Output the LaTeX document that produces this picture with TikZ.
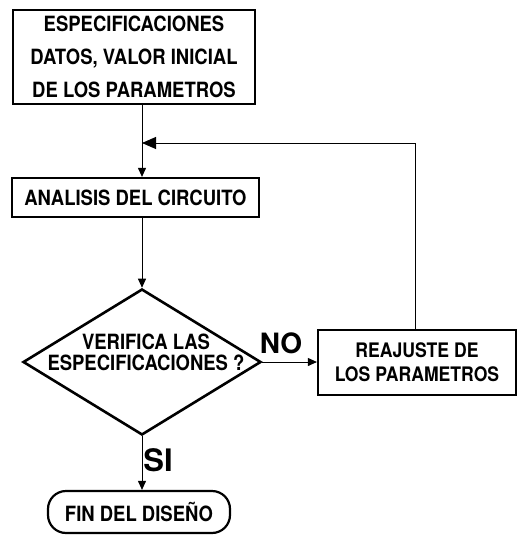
\documentclass[tikz,border=0pt]{standalone}
\usepackage{fontspec}
\setmainfont{TeX Gyre Heros}[FakeStretch=0.88]
\newfontfamily\lblfont{TeX Gyre Heros}
\usetikzlibrary{shapes.geometric,arrows.meta}
\begin{document}
\begin{tikzpicture}[x=1pt,y=-1pt,
  box/.style={draw,line width=2.2pt,align=center,font=\bfseries\fontsize{21}{33}\selectfont,inner sep=0pt},
  conn/.style={line width=0.9pt,-{Triangle[length=9pt,width=8pt]}},
  bigtip/.style={line width=0.9pt,-{Triangle[length=14pt,width=12pt]}},
  lbl/.style={font=\lblfont\bfseries\fontsize{28}{28}\selectfont,inner sep=0pt}]
\useasboundingbox (0,0) rectangle (518,536);
\node[box,minimum width=242pt,minimum height=94pt] (spec) at (134,57)
  {ESPECIFICACIONES\\DATOS, VALOR INICIAL\\DE LOS PARAMETROS};
\node[box,minimum width=247pt,minimum height=39pt] (ana) at (135.5,197.5) {ANALISIS DEL CIRCUITO};
\node[draw,diamond,line width=2.6pt,minimum width=238pt,minimum height=146pt,inner sep=0pt] (dec) at (142,362) {};
\node[align=center,font=\bfseries\fontsize{21}{21}\selectfont,inner sep=0pt] (dectxt) at (146,352) {VERIFICA LAS\\ESPECIFICACIONES ?};
\node[box,font=\bfseries\fontsize{20}{24}\selectfont,minimum width=198pt,minimum height=65pt] (rea) at (417,362.5) {REAJUSTE DE\\LOS PARAMETROS};
\node[box,rounded corners=18pt,font=\bfseries\fontsize{21}{21}\selectfont,minimum width=182pt,minimum height=42pt] (fin) at (139,512) {FIN DEL DISE\~NO};
\coordinate (j) at (142,143);
\coordinate (fb) at (415,143);
\draw[conn] (spec.south -| j) -- (ana.north -| j);
\draw[conn] (ana.south -| j) -- (dec.north);
\draw[conn] (dec.east) -- (rea.west |- dec.east);
\draw[bigtip] (rea.north -| fb) -- (fb) -- (j);
\draw[conn] (dec.south) -- (fin.north -| dec.south);
\node[lbl] (no) at (281,343) {NO};
\node[lbl,font=\lblfont\bfseries\fontsize{31}{31}\selectfont] (si) at (158,460) {SI};
\end{tikzpicture}
\end{document}
